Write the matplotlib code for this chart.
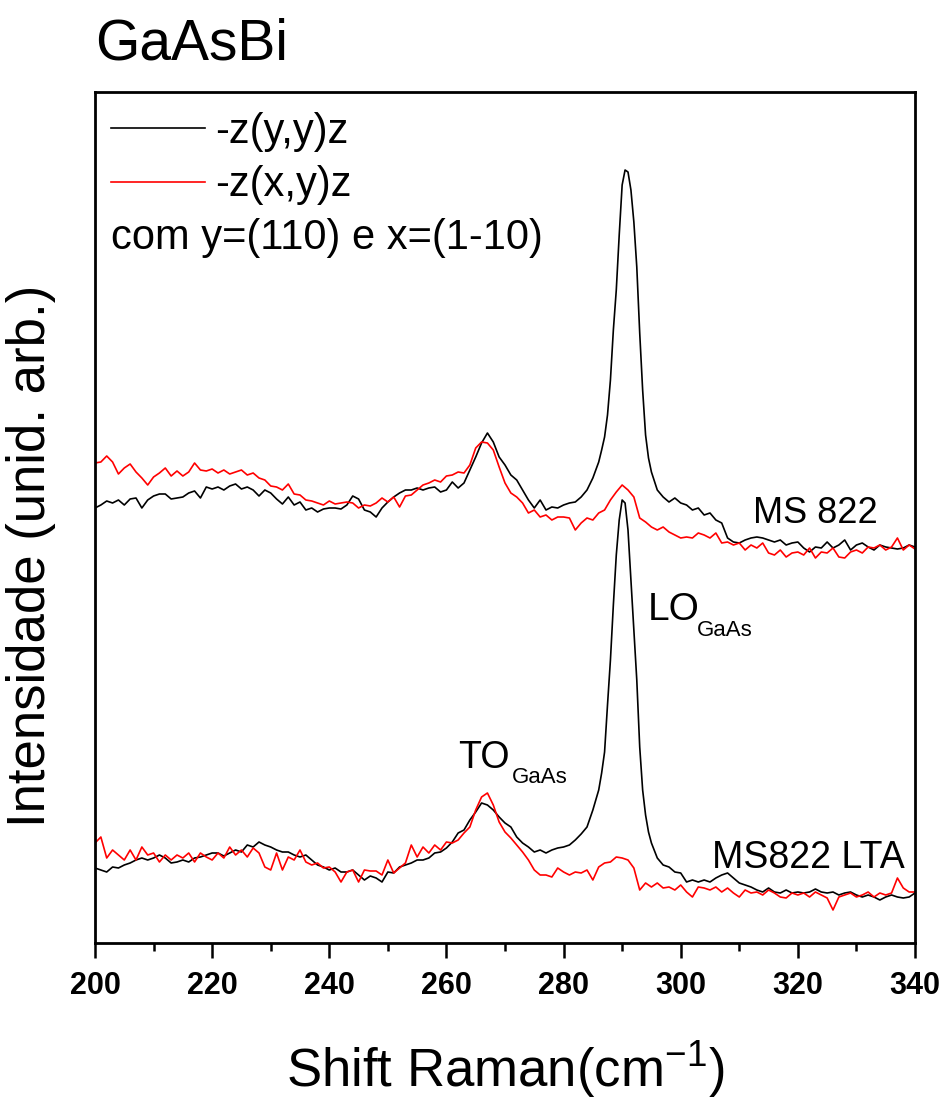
import numpy as np
import matplotlib
matplotlib.use('Agg')
import matplotlib.pyplot as plt

# Raman shift grid (cm-1) and intensities (arb. units)
shift = np.arange(200, 341)

ms822_yy = [435, 438, 442, 440, 443, 438, 444, 445, 435, 443,
            447, 449, 449, 444, 445, 446, 450, 452, 445, 456,
            454, 456, 453, 457, 459, 454, 456, 453, 447, 453,
            450, 444, 439, 446, 438, 441, 433, 435, 431, 434,
            435, 435, 434, 438, 447, 444, 433, 431, 426, 435,
            441, 446, 450, 453, 453, 455, 453, 455, 456, 451,
            453, 461, 455, 460, 473, 486, 500, 510, 501, 486,
            478, 468, 463, 453, 443, 435, 443, 433, 436, 435,
            438, 440, 441, 446, 453, 465, 481, 506, 563, 653,
            758, 771, 721, 610, 508, 471, 453, 446, 441, 445,
            440, 438, 433, 435, 428, 430, 423, 420, 405, 401,
            400, 403, 405, 406, 405, 403, 401, 403, 398, 400,
            401, 395, 391, 396, 395, 401, 395, 398, 403, 393,
            398, 400, 396, 393, 398, 396, 395, 394, 395, 398,
            396]

ms822_xy = [480, 481, 487, 481, 469, 475, 479, 471, 465, 458,
            466, 470, 475, 467, 472, 467, 471, 480, 473, 472,
            474, 470, 473, 469, 471, 473, 468, 470, 465, 463,
            457, 456, 453, 459, 449, 448, 443, 442, 440, 438,
            442, 439, 440, 441, 440, 435, 438, 437, 440, 445,
            441, 446, 436, 447, 448, 453, 458, 460, 463, 461,
            467, 468, 471, 470, 478, 495, 501, 500, 493, 476,
            460, 450, 446, 440, 430, 433, 426, 428, 423, 426,
            426, 425, 413, 420, 425, 423, 430, 433, 443, 451,
            458, 453, 446, 425, 421, 416, 413, 416, 411, 408,
            405, 406, 405, 410, 408, 405, 410, 400, 401, 398,
            400, 393, 398, 395, 400, 390, 388, 393, 386, 390,
            391, 388, 395, 385, 391, 390, 395, 386, 385, 391,
            393, 390, 396, 395, 398, 393, 396, 405, 393, 398,
            394]

lta_yy = [75, 73, 71, 76, 75, 78, 80, 83, 85, 83,
          85, 88, 85, 80, 81, 83, 81, 85, 86, 88,
          90, 90, 87, 90, 93, 91, 98, 96, 101, 98,
          96, 93, 91, 91, 88, 86, 88, 83, 78, 76,
          73, 75, 71, 71, 73, 68, 63, 67, 65, 61,
          71, 70, 76, 78, 80, 83, 83, 85, 90, 91,
          95, 101, 110, 113, 123, 131, 140, 138, 133, 126,
          120, 116, 106, 100, 96, 91, 93, 90, 93, 95,
          96, 98, 103, 109, 116, 133, 153, 191, 283, 388,
          443, 413, 313, 196, 128, 100, 85, 78, 76, 71,
          70, 61, 63, 61, 63, 61, 65, 68, 70, 65,
          60, 58, 56, 53, 51, 55, 51, 50, 53, 50,
          51, 50, 51, 54, 51, 50, 51, 48, 50, 51,
          48, 46, 48, 46, 43, 46, 48, 46, 45, 46,
          50]

lta_xy = [100, 106, 85, 93, 88, 83, 93, 83, 96, 88,
          90, 81, 88, 83, 88, 85, 90, 81, 90, 86,
          83, 90, 85, 96, 88, 93, 86, 95, 90, 76,
          73, 90, 73, 86, 83, 93, 81, 78, 80, 75,
          76, 71, 61, 71, 73, 61, 73, 72, 72, 68,
          83, 70, 75, 80, 98, 86, 96, 90, 98, 93,
          101, 100, 103, 110, 116, 133, 146, 150, 138, 121,
          111, 105, 98, 91, 83, 73, 68, 68, 66, 75,
          71, 68, 71, 70, 73, 63, 76, 80, 81, 86,
          85, 83, 75, 53, 60, 56, 60, 55, 56, 53,
          58, 51, 46, 56, 55, 53, 56, 51, 55, 50,
          46, 53, 50, 51, 48, 53, 50, 46, 45, 50,
          48, 50, 46, 51, 48, 45, 33, 46, 48, 50,
          46, 48, 51, 46, 50, 48, 50, 65, 55, 51,
          51]

# extra half-step points across the LO peak of the -z(y,y)z spectra
lo_shift = [286.5, 287.5, 288.5, 289.5, 290.5, 291.5, 292.5, 293.5, 294.5]
ms822_lo = [493, 528, 613, 708, 773, 753, 676, 553, 485]
lta_lo = [170, 238, 338, 423, 440, 363, 263, 153, 111]


def with_peak(y, y_peak):
    x = np.concatenate([shift, lo_shift])
    v = np.concatenate([y, y_peak])
    i = np.argsort(x)
    return x[i], v[i]


plt.rcParams['font.family'] = ['Liberation Sans', 'DejaVu Sans']
plt.rcParams['mathtext.fontset'] = 'custom'
plt.rcParams['mathtext.rm'] = 'Liberation Sans'

fig = plt.figure(figsize=(9.42, 11), dpi=100)
ax = fig.add_axes([95 / 942, 157 / 1100, 820 / 942, 851 / 1100])

x1, y1 = with_peak(ms822_yy, ms822_lo)
l1, = ax.plot(x1, y1, color='black', lw=1.2)
l2, = ax.plot(shift, ms822_xy, color='red', lw=1.2)
x3, y3 = with_peak(lta_yy, lta_lo)
ax.plot(x3, y3, color='black', lw=1.2)
ax.plot(shift, lta_xy, color='red', lw=1.2)

ax.set_xlim(200, 340)
ax.set_ylim(0, 851)
ax.set_xticks(np.arange(200, 341, 20))
ax.set_xticks(np.arange(210, 340, 20), minor=True)
ax.set_yticks([])
for s in ax.spines.values():
    s.set_linewidth(2)
ax.tick_params(axis='x', which='major', direction='out', length=11, width=1.8,
               labelsize=22, pad=9)
ax.tick_params(axis='x', which='minor', direction='out', length=6, width=1.8)
for lab in ax.get_xticklabels():
    lab.set_fontweight('bold')

ax.set_xlabel('Shift Raman(cm$^{-1}$)', fontsize=38, labelpad=27)
ax.set_ylabel('Intensidade (unid. arb.)', fontsize=38)
ax.yaxis.set_label_coords(-0.047, 0.455)

fig.text(95 / 942, 1 - 60 / 1100, 'GaAsBi', fontsize=41, va='baseline')

ax.legend([l1, l2], ['-z(y,y)z', '-z(x,y)z'], loc='upper left',
          bbox_to_anchor=(0.0195, 0.977), frameon=False, fontsize=30,
          handlelength=2.25, handletextpad=0.26, labelspacing=0.33,
          borderpad=0, borderaxespad=0)
ax.text(0.0195, 0.815, 'com y=(110) e x=(1-10)', transform=ax.transAxes,
        fontsize=30, va='baseline')

ax.text(312.3, 420, 'MS 822', fontsize=26, va='baseline')
ax.text(305.3, 75, 'MS822 LTA', fontsize=27, va='baseline')
ax.text(294.4, 323, 'LO', fontsize=28, va='baseline')
ax.text(302.8, 307, 'GaAs', fontsize=16, va='baseline')
ax.text(262.0, 175, 'TO', fontsize=27, va='baseline')
ax.text(271.2, 160, 'GaAs', fontsize=16, va='baseline')

fig.savefig('out.png', dpi=100)
